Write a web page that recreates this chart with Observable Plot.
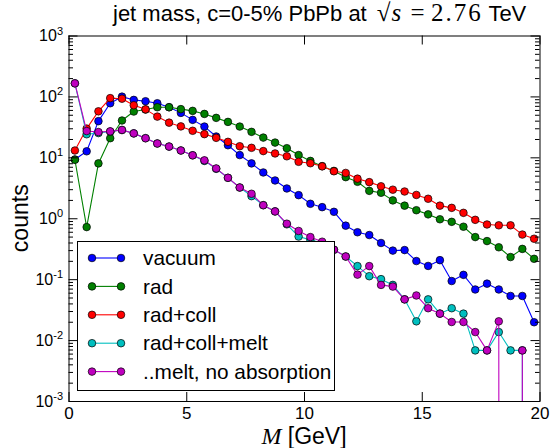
<!DOCTYPE html>
<html>
<head>
<meta charset="utf-8">
<script src="https://cdn.jsdelivr.net/npm/d3@7"></script>
<script src="https://cdn.jsdelivr.net/npm/@observablehq/plot@0.6"></script>
<style>
  body { margin: 0; background: #fff; }
  #wrap { position: relative; width: 550px; height: 448px; font-family: "Liberation Sans", Arial, sans-serif; }
  #title { position: absolute; left: 113px; top: 1px; font-size: 22px; line-height: 24px; color: #000; white-space: nowrap; z-index: 2; }
  #title .m { font-family: "Liberation Serif", "DejaVu Serif", serif; font-size: 25px; margin-left: 4px; }
  #title .ov { font-style: italic; border-top: 1px solid #000; padding: 0 3px 0 1px; }
  #title .num { letter-spacing: 2px; }
</style>
</head>
<body>
<div id="wrap">
  <div id="title">jet mass, c=0-5% PbPb at <span class="m">√<span class="ov">s</span> = <span class="num">2.76</span></span> TeV</div>
</div>
<script>
// bin centres (GeV)
const M = [0.25,0.75,1.25,1.75,2.25,2.75,3.25,3.75,4.25,4.75,5.25,5.75,6.25,6.75,7.25,7.75,8.25,8.75,9.25,9.75,
           10.25,10.75,11.25,11.75,12.25,12.75,13.25,13.75,14.25,14.75,15.25,15.75,16.25,16.75,17.25,17.75,18.25,18.75,19.25,19.75];

const vacuum = [9.4,12.8,40,78.7,101,89.3,84.9,78.7,67.7,54.7,
                42,32.6,22.4,16.1,11.1,8.1,5.75,4.25,3.14,2.44,
                1.76,1.55,1.30,0.77,0.60,0.54,0.40,0.30,0.306,0.202,
                0.168,0.209,0.095,0.12,0.069,0.086,0.069,0.054,0.054,0.020];

const rad = [9.3,0.73,8.1,21,41,57.5,62,67.7,67.7,63,
             59,52.6,45.3,38.9,32.6,26.7,21.5,17.8,14.4,11.1,
             8.9,7.3,6.1,4.82,4.04,2.87,2.67,2.0,1.64,1.38,
             1.18,0.98,0.89,0.74,0.50,0.43,0.34,0.235,0.32,0.22];

const radColl = [13.2,30.2,58,95.5,93.5,73,62.5,47.5,37.8,32.8,
                 27.8,24.5,21.3,18.3,15.5,14.6,12.9,11.8,10.6,8.6,
                 8.15,7.25,6.02,5.65,4.55,3.99,3.41,3.0,2.8,2.46,
                 2.13,1.64,1.51,1.25,0.96,0.805,0.78,0.78,0.55,0.47];

const radCollMelt = [167,24.4,25.5,27,28.6,25.2,21,17.2,15.3,13.2,
                     11.0,8.9,6.6,4.7,3.25,2.35,1.67,1.32,0.81,0.51,
                     0.45,0.40,0.31,0.24,0.167,0.114,0.102,0.082,0.0475,0.0207,
                     0.0475,0.0277,0.034,0.0277,0.0069,0.0069,0.0138,0.0069,0.0069,0];

const noAbsorption = [167,27.5,26.5,27.2,28.7,25.2,21,17.2,15.3,13.2,
                      11.0,9.1,6.7,4.7,3.26,2.57,1.67,1.32,0.83,0.63,
                      0.50,0.42,0.31,0.24,0.121,0.167,0.082,0.077,0.0475,0.055,
                      0.034,0.0277,0.0202,0.0202,0.0138,0.0069,0.0207,0,0.0069,0];

const names  = ["vacuum", "rad", "rad+coll", "rad+coll+melt", "..melt, no absorption"];
const colors = ["#0000ff", "#008000", "#ff0000", "#00bfbf", "#bf00bf"];
const seriesValues = [vacuum, rad, radColl, radCollMelt, noAbsorption];

const xTicks = [0, 5, 10, 15, 20];
const yTicks = [1e-3, 1e-2, 1e-1, 1e0, 1e1, 1e2, 1e3];

// tidy table
const tables = seriesValues.map((vals, s) => M.map((m, i) => ({m, v: vals[i], name: names[s]})));
// empty bins (0 counts) are clipped far below the axis, like the original log plot
const yv = d => (d.v > 0 ? d.v : 1e-300);

const W = 550, H = 448, mL = 68.5, mR = 10.5, mT = 35.5, mB = 47;
const fw = W - mL - mR, fh = H - mT - mB;
const minorTicks = d3.scaleLog().domain([1e-3, 1e3]).ticks().filter(t => !yTicks.some(y => Math.abs(y - t) / y < 1e-6));
const R = 3.8;

const marks = [];
tables.forEach((tb, s) => {
  marks.push(Plot.line(tb, {x: "m", y: yv, stroke: colors[s], strokeWidth: 1.1, clip: true}));
  marks.push(Plot.dot(tb, {x: "m", y: yv, r: R, fill: colors[s], stroke: "#000", strokeWidth: 0.7, clip: true}));
});

marks.push(
  Plot.frame({stroke: "#000", strokeWidth: 1}),
  Plot.tickX(xTicks, {x: d => d, insetTop: fh - 9, stroke: "#000"}),
  Plot.tickX(xTicks, {x: d => d, insetBottom: fh - 9, stroke: "#000"}),
  Plot.tickY(yTicks, {y: d => d, insetRight: fw - 9, stroke: "#000"}),
  Plot.tickY(yTicks, {y: d => d, insetLeft: fw - 9, stroke: "#000"}),
  Plot.tickY(minorTicks, {y: d => d, insetRight: fw - 4.5, stroke: "#000"}),
  Plot.tickY(minorTicks, {y: d => d, insetLeft: fw - 4.5, stroke: "#000"}),
  Plot.axisX({ticks: xTicks, tickSize: 0, tickPadding: 5, fontSize: 17, tickFormat: d => String(d), label: null, fill: "#000"}),
  Plot.axisY({ticks: yTicks, tickSize: 0, tickPadding: 6, fontSize: 16, tickFormat: d => "10^" + Math.round(Math.log10(d)), label: null, fill: "#000"})
);

const svg = Plot.plot({
  width: W, height: H,
  marginLeft: mL, marginRight: mR, marginTop: mT, marginBottom: mB,
  style: {fontFamily: '"Liberation Sans", Arial, sans-serif', background: "white", color: "#000"},
  x: {domain: [0, 20]},
  y: {type: "log", domain: [1e-3, 1e3]},
  marks
});

// superscript exponents on the y tick labels
svg.querySelectorAll('g[aria-label="y-axis tick label"] text').forEach(t => {
  const [b, e] = t.textContent.split("^");
  t.textContent = "";
  const ns = "http://www.w3.org/2000/svg";
  const t1 = document.createElementNS(ns, "tspan"); t1.textContent = b;
  const t2 = document.createElementNS(ns, "tspan"); t2.textContent = e;
  t2.setAttribute("font-size", "11"); t2.setAttribute("dy", "-0.6em");
  t.append(t1, t2);
});

const sel = d3.select(svg);
// axis labels
sel.append("text").attr("transform", `translate(20,${mT + fh / 2}) rotate(-90)`)
  .attr("text-anchor", "middle").attr("dy", "0.35em").attr("font-size", 23).attr("fill", "#000").text("counts");
const xl = sel.append("text").attr("x", mL + fw / 2).attr("y", 444).attr("text-anchor", "middle").attr("font-size", 23).attr("fill", "#000");
xl.append("tspan").attr("font-family", '"Liberation Serif", serif').attr("font-style", "italic").attr("font-size", 24).text("M");
xl.append("tspan").text(" [GeV]");

// legend
const lg = sel.append("g").attr("text-anchor", "start");
lg.append("rect").attr("x", 77.5).attr("y", 241.5).attr("width", 257).attr("height", 149)
  .attr("fill", "#fff").attr("stroke", "#000").attr("stroke-width", 1);
names.forEach((n, i) => {
  const y = 258 + i * 28.4;
  lg.append("line").attr("x1", 92).attr("x2", 121).attr("y1", y).attr("y2", y).attr("stroke", colors[i]).attr("stroke-width", 1.1);
  [92, 121].forEach(cx => lg.append("circle").attr("cx", cx).attr("cy", y).attr("r", R)
    .attr("fill", colors[i]).attr("stroke", "#000").attr("stroke-width", 0.7));
  lg.append("text").attr("x", 143).attr("y", y).attr("dy", "0.35em").attr("text-anchor", "start")
    .attr("font-size", 20.8).attr("fill", "#000").text(n);
});

document.getElementById("wrap").prepend(svg);
svg.style.position = "absolute"; svg.style.left = "0"; svg.style.top = "0";
</script>
</body>
</html>
